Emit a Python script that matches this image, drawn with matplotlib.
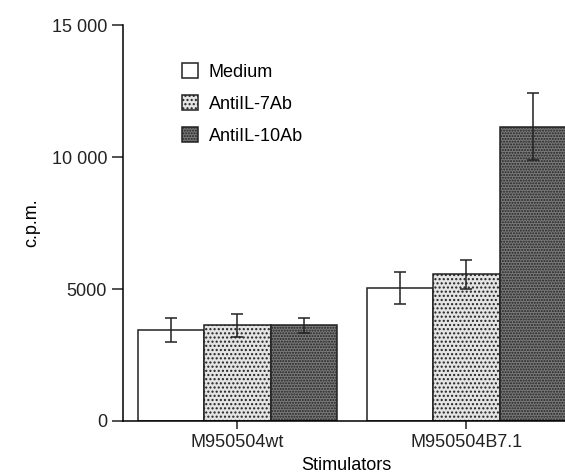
import numpy as np
import matplotlib.pyplot as plt

plt.rcParams['font.family'] = ['Liberation Sans', 'DejaVu Sans']

# Data
stimulators = ["M950504wt", "M950504B7.1"]
series = ["Medium", "AntiIL-7Ab", "AntiIL-10Ab"]
values = [
    [3450, 5050],    # Medium
    [3620, 5550],    # AntiIL-7Ab
    [3620, 11150],   # AntiIL-10Ab
]
errors = [
    [440, 600],
    [450, 550],
    [300, 1280],
]
y_ticks = [0, 5000, 10000, 15000]
y_tick_labels = ["0", "5000", "10 000", "15 000"]

# Styles
faces = ["white", "#e4e4e4", "#7a7a7a"]
hatches = [None, "....", "......"]
width = 0.29

fig = plt.figure(figsize=(5.65, 4.73), dpi=100)
ax = fig.add_axes([0.2177, 0.110, 0.79, 0.837])

x = np.arange(len(stimulators))
for i, name in enumerate(series):
    pos = x + (i - 1) * width
    ax.bar(pos, values[i], width, color=faces[i], edgecolor="#222222",
           hatch=hatches[i], linewidth=1.1, label=name)
    ax.errorbar(pos, values[i], yerr=errors[i], fmt="none", ecolor="#222222",
                elinewidth=1.1, capsize=4, capthick=1.1)

ax.set_xlim(-0.5, 1.45)
ax.set_ylim(0, 15000)
ax.set_yticks(y_ticks)
ax.set_yticklabels(y_tick_labels)
ax.set_xticks(x)
ax.set_xticklabels(stimulators)
ax.tick_params(axis="y", direction="out", length=8, width=1.1, labelsize=13, colors="#222222")
ax.tick_params(axis="x", direction="out", length=6, width=1.1, labelsize=13, colors="#222222")
ax.spines["top"].set_visible(False)
ax.spines["right"].set_visible(False)
ax.spines["left"].set_linewidth(1.1)
ax.spines["bottom"].set_linewidth(1.1)

ax.set_ylabel("c.p.m.", fontsize=13, labelpad=8)
ax.set_xlabel("Stimulators", fontsize=13, labelpad=4)

ax.legend(loc="upper left", bbox_to_anchor=(0.095, 0.945), frameon=False,
          fontsize=13, handlelength=0.9, handleheight=0.9, labelspacing=0.8,
          handletextpad=0.6)

fig.savefig("out.png", dpi=100)
